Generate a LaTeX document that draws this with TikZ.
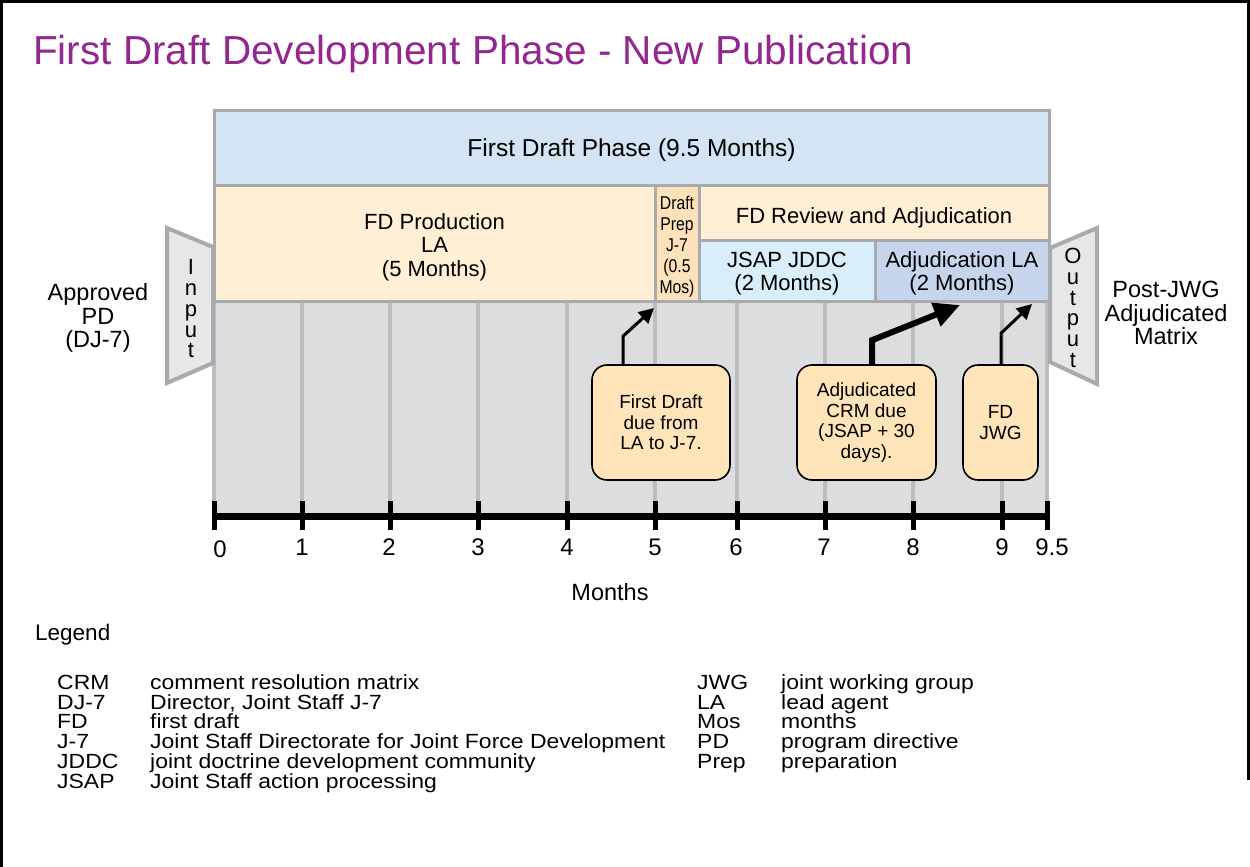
\documentclass[tikz,border=0pt]{standalone}
\usepackage{fontspec}
\setmainfont{Liberation Sans}
\newfontfamily\condfont[FakeStretch=0.85]{Liberation Sans}
\newfontfamily\widefont[FakeStretch=1.12]{Liberation Sans}
\usetikzlibrary{arrows.meta}
\definecolor{titlepurple}{HTML}{93278F}
\definecolor{phaseblue}{HTML}{D5E4F4}
\definecolor{peach}{HTML}{FFEFD4}
\definecolor{prepfill}{HTML}{FCE1BA}
\definecolor{jsapblue}{HTML}{D9EEFB}
\definecolor{adjblue}{HTML}{C6D5EC}
\definecolor{grayarea}{HTML}{DCDDDF}
\definecolor{vlinegray}{HTML}{BBBCBE}
\definecolor{bordergray}{HTML}{A9AAAD}
\definecolor{trapfill}{HTML}{E6E7E9}
\definecolor{callfill}{HTML}{FFE3B9}
\begin{document}
\begin{tikzpicture}[x=1pt,y=-1pt,
  box/.style={draw=bordergray, line width=3pt, inner sep=0pt},
  boxtext/.style={align=center, inner sep=0pt, font=\fontsize{22}{23.5}\selectfont},
  trap/.style={draw=bordergray, fill=trapfill, line width=4pt, line join=miter},
  vline/.style={draw=vlinegray, line width=4pt},
  callout/.style={draw=black, line width=1.6pt, rounded corners=15pt, fill=callfill,
    inner sep=0pt, align=center, font=\fontsize{19}{20.5}\selectfont},
  thinarr/.style={line width=3pt, line join=miter, -{Triangle[length=15pt,width=15pt]}},
  thickarr/.style={line width=6pt, line join=miter, -{Triangle[length=26pt,width=24pt]}},
  sidelbl/.style={align=center, inner sep=0pt, font=\fontsize{23.5}{23.5}\selectfont},
  letters/.style={align=center, inner sep=0pt, font=\fontsize{22}{20.75}\selectfont},
  axnum/.style={anchor=base, inner sep=0pt, font=\fontsize{24}{24}\selectfont},
  legab/.style={anchor=base west, inner sep=0pt, font=\widefont\fontsize{20.5}{20.5}\selectfont},
]
\useasboundingbox (0,0) rectangle (1250,867);
\fill[white] (0,0) rectangle (1250,867);
% frame
\draw[line width=3pt] (1.5,867) -- (1.5,1.5) -- (1248.5,1.5) -- (1248.5,780);

% title
\node[anchor=base west, inner sep=0pt, text=titlepurple, font=\fontsize{40.5}{40.5}\selectfont]
  (title) at (33,64) {First Draft Development Phase - New Publication};

% gray timeline area
\fill[grayarea] (214,301) rectangle (1048,516);
\foreach \x in {214,302,390,478,567,655,737,825,913,1002,1047}
  \draw[vline] (\x,301) -- (\x,516);

% phase boxes
\node[box, fill=phaseblue, minimum width=835pt, minimum height=75pt] (phase) at (631.5,147.5) {};
\node[box, fill=peach, minimum width=441pt, minimum height=116pt] (prod) at (434.5,243) {};
\node[box, fill=prepfill, minimum width=44pt, minimum height=116pt] (prep) at (677,243) {};
\node[box, fill=peach, minimum width=350pt, minimum height=55pt] (rev) at (874,212.5) {};
\node[box, fill=jsapblue, minimum width=176pt, minimum height=61pt] (jsap) at (787,270.5) {};
\node[box, fill=adjblue, minimum width=174pt, minimum height=61pt] (adj) at (962,270.5) {};

\node[boxtext, font=\fontsize{24.5}{24.5}\selectfont] (phasetxt) at (631.5,150) {First Draft Phase (9.5 Months)};
\node[boxtext] (prodtxt) at (434.5,247) {FD Production\\LA\\(5 Months)};
\node[boxtext, font=\condfont\fontsize{18.5}{21}\selectfont] (preptxt) at (677,247)
  {Draft\\Prep\\J-7\\(0.5\\Mos)};
\node[boxtext] (revtxt) at (874,218) {FD Review and Adjudication};
\node[boxtext] (jsaptxt) at (787,273.5) {JSAP JDDC\\(2 Months)};
\node[boxtext] (adjtxt) at (962,273.5) {Adjudication LA\\(2 Months)};

% input / output trapezoids
\draw[trap] (167,228) -- (213,247) -- (213,363) -- (167,383) -- cycle;
\node[letters] (inp) at (191,309) {I\\n\\p\\u\\t};
\draw[trap] (1050,248) -- (1097,228) -- (1097,384) -- (1050,362) -- cycle;
\node[letters] (outp) at (1073,308) {O\\u\\t\\p\\u\\t};

% side labels
\node[sidelbl] (approved) at (98,318) {Approved\\PD\\(DJ-7)};
\node[sidelbl] (postjwg) at (1166,313) {Post-JWG\\Adjudicated\\Matrix};

% callouts
\node[callout, minimum width=138pt, minimum height=115pt] (c1) at (661,422.5)
  {First Draft\\due from\\LA to J-7.};
\node[callout, minimum width=139pt, minimum height=115pt] (c2) at (866.5,422.5)
  {Adjudicated\\CRM due\\(JSAP + 30\\days).};
\node[callout, minimum width=75pt, minimum height=115pt] (c3) at (1000.5,422.5)
  {FD\\JWG};

\coordinate (t1) at (654,308);
\coordinate (t2) at (960,305);
\coordinate (t3) at (1032,304);
\draw[thinarr] ([xshift=-38pt]c1.north) -- ++(0,-28) -- (t1);
\draw[thickarr] ([xshift=5.5pt]c2.north) -- ++(0,-24) -- (t2);
\draw[thinarr] ([xshift=0.5pt]c3.north) -- ++(0,-31) -- (t3);

% axis
\draw[line width=7pt] (211.5,516) -- (1049.5,516);
\foreach \x in {214,302,390,478,567,655,737,825,913,1002,1047}
  \draw[line width=5pt] (\x,501) -- (\x,530);
\node[axnum] (n0) at (220,557) {0};
\node[axnum] (n1) at (302,555) {1};
\node[axnum] (n2) at (389,555) {2};
\node[axnum] (n3) at (478,555) {3};
\node[axnum] (n4) at (567,555) {4};
\node[axnum] (n5) at (655,555) {5};
\node[axnum] (n6) at (736,555) {6};
\node[axnum] (n7) at (824,555) {7};
\node[axnum] (n8) at (913,555) {8};
\node[axnum] (n9) at (1002,555) {9};
\node[axnum] (n95) at (1052,555) {9.5};
\node[axnum, font=\fontsize{23.5}{23.5}\selectfont] (months) at (610,600) {Months};

% legend
\node[anchor=base west, inner sep=0pt, font=\fontsize{22.5}{22.5}\selectfont] (legend) at (35,640) {Legend};
\node[legab] (la1) at (57,689) {CRM};
\node[legab] (ld1) at (150,689) {comment resolution matrix};
\node[legab] (la2) at (57,709) {DJ-7};
\node[legab] (ld2) at (150,709) {Director, Joint Staff J-7};
\node[legab] (la3) at (57,728.5) {FD};
\node[legab] (ld3) at (150,728.5) {first draft};
\node[legab] (la4) at (57,748.5) {J-7};
\node[legab] (ld4) at (150,748.5) {Joint Staff Directorate for Joint Force Development};
\node[legab] (la5) at (57,768.5) {JDDC};
\node[legab] (ld5) at (150,768.5) {joint doctrine development community};
\node[legab] (la6) at (57,788.5) {JSAP};
\node[legab] (ld6) at (150,788.5) {Joint Staff action processing};
\node[legab] (ra1) at (697,689) {JWG};
\node[legab] (rd1) at (781,689) {joint working group};
\node[legab] (ra2) at (697,709) {LA};
\node[legab] (rd2) at (781,709) {lead agent};
\node[legab] (ra3) at (697,728.5) {Mos};
\node[legab] (rd3) at (781,728.5) {months};
\node[legab] (ra4) at (697,748.5) {PD};
\node[legab] (rd4) at (781,748.5) {program directive};
\node[legab] (ra5) at (697,768.5) {Prep};
\node[legab] (rd5) at (781,768.5) {preparation};
\end{tikzpicture}
\end{document}
